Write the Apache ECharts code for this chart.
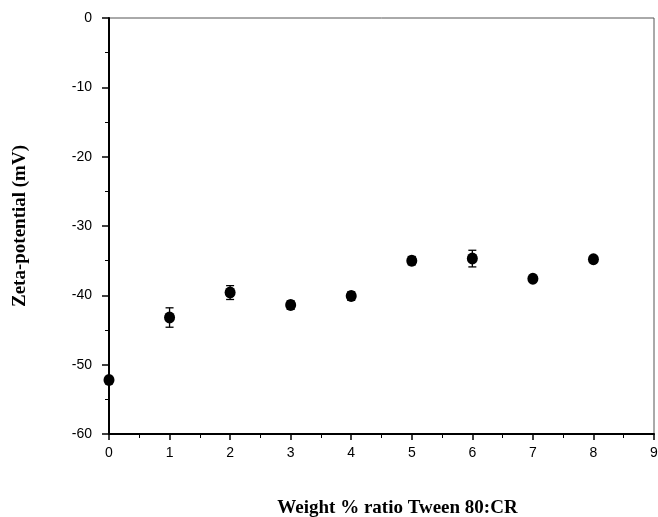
<!DOCTYPE html>
<html><head><meta charset="utf-8">
<script src="https://cdn.jsdelivr.net/npm/echarts@6/dist/echarts.min.js"></script>
<style>html,body{margin:0;padding:0;background:#fff}#c{width:658px;height:517px}</style>
</head><body><div id="c"></div>
<script>
const ratios = [0, 1, 2, 3, 4, 5, 6, 7, 8];
const zeta = [-52.2, -43.2, -39.6, -41.4, -40.1, -35.0, -34.7, -37.6, -34.8];
const errs = [0.3, 1.4, 1.0, 0.6, 0.6, 0.6, 1.2, 0.3, 0.3];
const xTicks = [0, 1, 2, 3, 4, 5, 6, 7, 8, 9];
const yTicks = [-60, -50, -40, -30, -20, -10, 0];

const chart = echarts.init(document.getElementById('c'));
const pts = ratios.map((x, i) => [x, zeta[i]]);
const errData = ratios.map((x, i) => [x, zeta[i] - errs[i], zeta[i] + errs[i]]);
chart.setOption({
  animation: false,
  grid: {left: 109, right: 4, top: 18, bottom: 83, show: true, borderColor: '#555', borderWidth: 1,
         outerBoundsMode: 'none', containLabel: false},
  xAxis: {
    type: 'value', min: xTicks[0], max: xTicks[xTicks.length - 1], interval: 1,
    name: 'Weight % ratio Tween 80:CR', nameLocation: 'middle', nameGap: 65,
    nameTextStyle: {fontFamily: 'Liberation Serif', fontWeight: 'bold', fontSize: 19, color: '#000',
                    padding: [0, 0, 0, 32]},
    axisLine: {show: true, onZero: false, lineStyle: {color: '#000', width: 2}},
    axisTick: {show: true, inside: false, length: 6, lineStyle: {color: '#000', width: 1.5}},
    minorTick: {show: true, splitNumber: 2, length: 4, lineStyle: {color: '#000', width: 1}},
    splitLine: {show: false},
    axisLabel: {fontFamily: 'Liberation Sans', fontSize: 14, color: '#000', margin: 12}
  },
  yAxis: {
    type: 'value', min: yTicks[0], max: yTicks[yTicks.length - 1], interval: 10,
    name: 'Zeta-potential (mV)', nameLocation: 'middle', nameGap: 79, nameRotate: 90,
    nameTextStyle: {fontFamily: 'Liberation Serif', fontWeight: 'bold', fontSize: 19, color: '#000'},
    axisLine: {show: true, onZero: false, lineStyle: {color: '#000', width: 2}},
    axisTick: {show: true, inside: false, length: 7, lineStyle: {color: '#000', width: 1.5}},
    minorTick: {show: true, splitNumber: 2, length: 4, lineStyle: {color: '#000', width: 1}},
    splitLine: {show: false},
    axisLabel: {fontFamily: 'Liberation Sans', fontSize: 14, color: '#000', margin: 17}
  },
  series: [
    {
      type: 'custom', data: errData, z: 3,
      renderItem: function (params, api) {
        const x = api.value(0);
        const lo = api.coord([x, api.value(1)]);
        const hi = api.coord([x, api.value(2)]);
        const w = 4;
        const st = {stroke: '#000', lineWidth: 1.3};
        return {type: 'group', children: [
          {type: 'line', shape: {x1: lo[0], y1: lo[1], x2: hi[0], y2: hi[1]}, style: st},
          {type: 'line', shape: {x1: lo[0] - w, y1: lo[1], x2: lo[0] + w, y2: lo[1]}, style: st},
          {type: 'line', shape: {x1: hi[0] - w, y1: hi[1], x2: hi[0] + w, y2: hi[1]}, style: st}
        ]};
      }
    },
    {
      type: 'scatter', data: pts, symbol: 'circle', symbolSize: [11, 12], z: 4,
      itemStyle: {color: '#000', opacity: 1}
    }
  ]
});
</script></body></html>
